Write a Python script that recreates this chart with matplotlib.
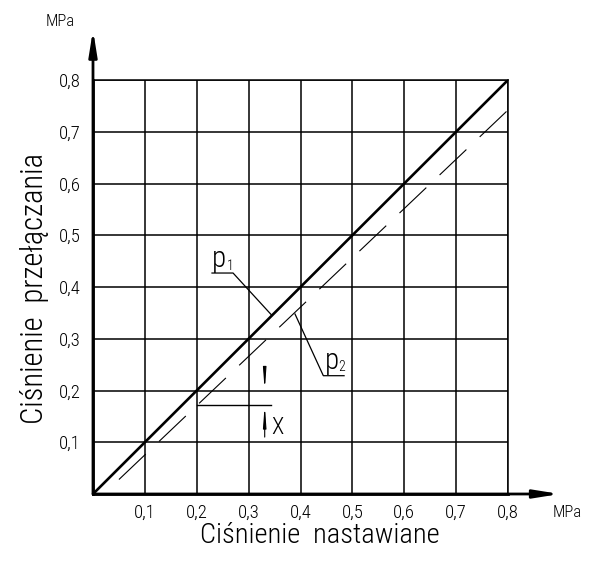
import matplotlib
matplotlib.use('Agg')
import matplotlib.pyplot as plt

###################### Data ######################
ticks = [0.1, 0.2, 0.3, 0.4, 0.5, 0.6, 0.7, 0.8]
tick_labels = ['0,1', '0,2', '0,3', '0,4', '0,5', '0,6', '0,7', '0,8']

# p1 - switching pressure equal to set pressure
p1_x = [0.0, 0.8]
p1_y = [0.0, 0.8]
# p2 - lower switching pressure (dashed)
p2_x = [0.05, 0.8]
p2_y = [0.028, 0.742]

# hysteresis X measured at set pressure 0.2
x_at = 0.2
x_low = 0.172

###################### Style ######################
plt.rcParams['font.family'] = ['Roboto Condensed', 'DejaVu Sans']
plt.rcParams['font.weight'] = 'light'
plt.rcParams['lines.scale_dashes'] = False

fig = plt.figure(figsize=(5.94, 5.61), dpi=100)
ax = fig.add_axes([93/594, 67/561, 415/594, 414/561])
ax.set_xlim(0, 0.8)
ax.set_ylim(0, 0.8)

ax.set_xticks(ticks)
ax.set_yticks(ticks)
ax.set_xticklabels(tick_labels)
ax.set_yticklabels(tick_labels)
ax.tick_params(length=0, labelsize=13.5, colors='black')
ax.tick_params(axis='x', pad=7)
ax.tick_params(axis='y', pad=9)
ax.grid(True, color='black', lw=1.1)
for s in ['top', 'right']:
    ax.spines[s].set_linewidth(1.1)
for s in ['left', 'bottom']:
    ax.spines[s].set_linewidth(2.0)

# axis arrows
arr = dict(arrowstyle='-|>,head_length=0.75,head_width=0.12', mutation_scale=20,
           lw=2.0, color='black', shrinkA=0, shrinkB=0)
ax.annotate('', xy=(0, 0.897), xytext=(0, 0), arrowprops=arr, annotation_clip=False)
ax.annotate('', xy=(0.900, 0), xytext=(0, 0), arrowprops=arr, annotation_clip=False)
ax.text(-0.0636, 0.914, 'MPa', fontsize=12, ha='center', va='center', clip_on=False)
ax.text(0.915, -0.035, 'MPa', fontsize=12, ha='center', va='center', clip_on=False)

# lines
ax.plot(p1_x, p1_y, color='black', lw=1.9, solid_capstyle='butt', zorder=4)
ax.plot(p2_x, p2_y, color='black', lw=0.8, linestyle=(0, (26.6, 13.2)), zorder=4)

# labels p1 / p2 with leaders
ax.plot([0.2294, 0.270, 0.345], [0.427, 0.427, 0.345], color='black', lw=0.9)
ax.text(0.2300, 0.428, 'p', fontsize=21, ha='left', va='bottom')
ax.text(0.2583, 0.433, '1', fontsize=10, ha='left', va='baseline')
ax.plot([0.484, 0.444, 0.3894], [0.2286, 0.2286, 0.3478], color='black', lw=0.9)
ax.text(0.4463, 0.2296, 'p', fontsize=21, ha='left', va='bottom')
ax.text(0.4729, 0.2383, '2', fontsize=10, ha='left', va='baseline')

# X dimension
ax.plot([x_at, 0.343], [x_low, x_low], color='black', lw=1.0)
darr = dict(arrowstyle='-|>,head_length=1.2,head_width=0.09', mutation_scale=10,
            lw=0.8, color='black', shrinkA=0, shrinkB=0)
ax.annotate('', xy=(0.331, x_at), xytext=(0.331, 0.245), arrowprops=darr)
ax.annotate('', xy=(0.331, x_low), xytext=(0.331, 0.110), arrowprops=darr)
ax.text(0.355, 0.129, 'X', fontsize=16.5, ha='center', va='center')

# axis titles
ax.text(0.4376, -0.0947, 'Ciśnienie  nastawiane', fontsize=20.5, ha='center',
        va='baseline', clip_on=False)
ax.text(-0.112, 0.398, 'Ciśnienie  przełączania', fontsize=22, ha='center',
        va='center', rotation=90, clip_on=False)

plt.savefig('out.png', dpi=100)
